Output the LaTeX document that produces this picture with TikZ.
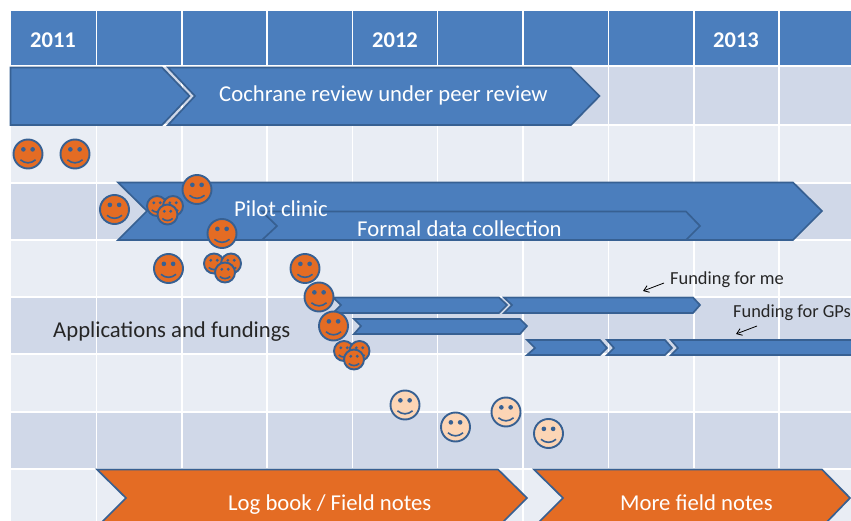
\documentclass[tikz,border=0pt]{standalone}
\usepackage{fontspec}
\setmainfont{Carlito}
\usetikzlibrary{arrows.meta}
\definecolor{hdr}{HTML}{4B7EBD}
\definecolor{bandA}{HTML}{D0D8E8}
\definecolor{bandB}{HTML}{E9EDF4}
\definecolor{edgeblue}{HTML}{376092}
\definecolor{orangefill}{HTML}{E46C24}
\definecolor{peach}{HTML}{FCD5B5}
\definecolor{inkdark}{HTML}{262626}
\tikzset{
  bar/.style={fill=hdr,draw=edgeblue,line width=1.7pt,line join=miter},
  orangebar/.style={fill=orangefill,draw=edgeblue,line width=1.7pt,line join=miter},
  gridline/.style={white,line width=1.8pt},
  whitetext/.style={text=white,inner sep=0pt,anchor=base west,font=\fontsize{22.7}{24}\selectfont},
  darktext/.style={text=inkdark,inner sep=0pt,anchor=base west},
  yeartext/.style={text=white,inner sep=0pt,font=\fontsize{22.5}{24}\selectfont\bfseries},
  note/.style={-{Straight Barb[length=5pt,width=7pt]},black,line width=0.8pt}
}
\newcommand{\smiley}[5]{% name, x, y, radius, fill
  \node[circle,inner sep=0pt,minimum size=#4*2pt,fill=#5,draw=edgeblue,line width=1.9pt] (#1) at (#2,#3) {};
  \begin{scope}[shift={(#2,#3)}]
    \fill[edgeblue] (-0.32*#4,-0.32*#4) circle[radius=0.16*#4];
    \fill[edgeblue] (0.32*#4,-0.32*#4) circle[radius=0.16*#4];
    \draw[edgeblue,line width=1.6pt] (-0.52*#4,0.4*#4) .. controls (-0.2*#4,0.68*#4) and (0.2*#4,0.68*#4) .. (0.52*#4,0.4*#4);
  \end{scope}
}
\begin{document}
\begin{tikzpicture}[x=1pt,y=-1pt]
\useasboundingbox (0,0) rectangle (851,521);
\begin{scope}
\clip (0,0) rectangle (851,521);
% bands
\fill[hdr] (11,11) rectangle (851,66);
\fill[bandA] (11,66) rectangle (851,125);
\fill[bandB] (11,125) rectangle (851,183);
\fill[bandA] (11,183) rectangle (851,240);
\fill[bandB] (11,240) rectangle (851,297);
\fill[bandA] (11,297) rectangle (851,354);
\fill[bandB] (11,354) rectangle (851,412);
\fill[bandA] (11,412) rectangle (851,469);
\fill[bandB] (11,469) rectangle (851,521);
\foreach \gx in {96.5,182,267,352.5,437.5,523,608.5,694,779}
  \draw[gridline] (\gx,11) -- (\gx,521);
\foreach \gy in {66,125,183,240,297,354,412,469}
  \draw[gridline] (11,\gy) -- (851,\gy);
% header years
\node[yeartext] (y2011) at (53,40) {2011};
\node[yeartext] (y2012) at (395,40) {2012};
\node[yeartext] (y2013) at (736,40) {2013};
% review chevrons
\draw[bar] (10.5,67.5) -- (162,67.5) -- (189.5,96) -- (162,125) -- (10.5,125) -- cycle;
\draw[bar] (168,67.5) -- (571,67.5) -- (599.5,96) -- (571,125) -- (168,125) -- (195,96) -- cycle;
\node[whitetext] (review) at (219,102) {Cochrane review under peer review};
% pilot and formal
\draw[bar] (118,182.5) -- (793,182.5) -- (822,211) -- (793,240) -- (118,240) -- (147,211) -- cycle;
\draw[bar] (262,211.5) -- (686,211.5) -- (700,226) -- (686,240) -- (262,240) -- (277,226) -- cycle;
\node[whitetext] (pilot) at (234,217) {Pilot clinic};
\node[whitetext] (formal) at (357,237) {Formal data collection};
% funding bars
\draw[bar] (333,297.5) -- (499,297.5) -- (507,305) -- (499,313) -- (333,313) -- (341,305) -- cycle;
\draw[bar] (504,297.5) -- (693,297.5) -- (700,305) -- (693,313) -- (504,313) -- (512,305) -- cycle;
\draw[bar] (354,319) -- (520,319) -- (527,326) -- (520,334) -- (354,334) -- (361,326) -- cycle;
\draw[bar] (527,340) -- (600,340) -- (607,348) -- (600,355) -- (527,355) -- (535,348) -- cycle;
\draw[bar] (607,340) -- (665,340) -- (672,348) -- (665,355) -- (607,355) -- (614,348) -- cycle;
\draw[bar] (671,340) -- (860,340) -- (860,355) -- (671,355) -- (678,348) -- cycle;
\node[darktext,font=\fontsize{22.7}{24}\selectfont] (apps) at (53,337) {Applications and fundings};
\node[darktext,font=\fontsize{18.4}{20}\selectfont] (fme) at (670,284.5) {Funding for me};
\node[darktext,font=\fontsize{18.4}{20}\selectfont] (fgp) at (733,317) {Funding for GPs};
\coordinate (a1s) at (664,283); \coordinate (a1e) at (643,291);
\coordinate (a2s) at (757,326); \coordinate (a2e) at (736,334);
\draw[note] (a1s) -- (a1e);
\draw[note] (a2s) -- (a2e);
% orange bars
\draw[orangebar] (97,469.5) -- (498,469.5) -- (527,498) -- (498,527) -- (97,527) -- (126,498) -- cycle;
\draw[orangebar] (534,469.5) -- (822,469.5) -- (850,498) -- (822,527) -- (534,527) -- (563,498) -- cycle;
\node[whitetext] (log) at (228,510) {Log book / Field notes};
\node[whitetext] (more) at (620,510) {More field notes};
% faces
\smiley{f1}{28}{154}{14.5}{orangefill}
\smiley{f2}{75}{154}{14.5}{orangefill}
\smiley{f3}{114.5}{209.5}{14.5}{orangefill}
\smiley{f4}{197}{189.5}{14.5}{orangefill}
\smiley{f5}{222}{233.5}{14.5}{orangefill}
\smiley{f6}{168.5}{268.5}{14.5}{orangefill}
\smiley{f7}{305}{268.5}{14.5}{orangefill}
\smiley{f8}{319}{297}{14.5}{orangefill}
\smiley{f9}{333.5}{326}{14.5}{orangefill}
\smiley{s1}{157}{206}{10}{orangefill}
\smiley{s2}{173}{206}{10}{orangefill}
\smiley{s3}{167.5}{214.5}{10}{orangefill}
\smiley{s4}{214}{263.5}{10}{orangefill}
\smiley{s5}{231}{263.5}{10}{orangefill}
\smiley{s6}{225}{272.5}{10}{orangefill}
\smiley{s7}{344}{351}{10}{orangefill}
\smiley{s8}{359.5}{351}{10}{orangefill}
\smiley{s9}{354}{359.5}{10}{orangefill}
\smiley{p1}{405}{405}{14.5}{peach}
\smiley{p2}{455.5}{427}{14.5}{peach}
\smiley{p3}{506}{412}{14.5}{peach}
\smiley{p4}{548.5}{433.5}{14.5}{peach}
\end{scope}
\end{tikzpicture}
\end{document}
